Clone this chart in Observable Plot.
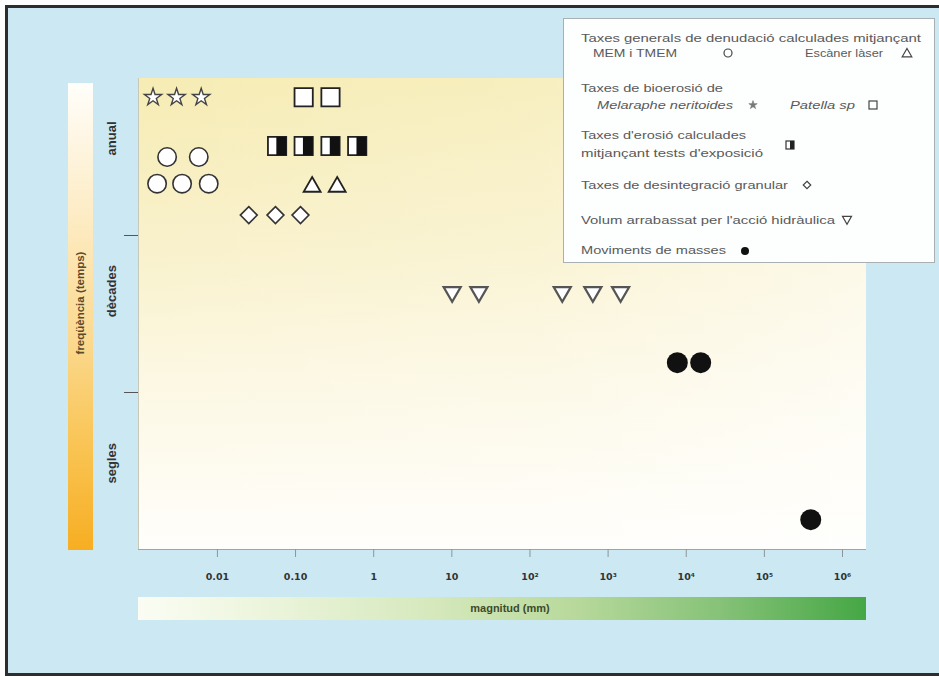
<!DOCTYPE html>
<html><head><meta charset="utf-8">
<script src="https://cdn.jsdelivr.net/npm/d3@7"></script>
<script src="https://cdn.jsdelivr.net/npm/@observablehq/plot@0.6"></script>
<style>
body{margin:0;background:#fff;font-family:"Liberation Sans",Arial,sans-serif;}
#wrap{position:relative;width:939px;height:676px;overflow:hidden;}
#panel{position:absolute;left:5px;top:5px;width:934px;height:671px;background:#cce9f3;border-left:3px solid #2e2e2e;border-top:3px solid #2e2e2e;border-bottom:3px solid #2e2e2e;box-sizing:border-box;}
#plotbg{position:absolute;left:138px;top:78px;width:728px;height:471px;
 background:linear-gradient(to right, rgba(255,255,255,0) 0%, rgba(255,255,255,0.15) 55%, rgba(255,255,255,0.55) 100%),
 linear-gradient(to bottom, #f6ecb4 0%, #f9f1cb 35%, #fcf8e4 65%, #fffefb 100%);}
#ybar{position:absolute;left:68px;top:83px;width:25px;height:467px;
 background:linear-gradient(to bottom,#fffefa 0%,#fdeecb 25%,#fbd98f 55%,#f9c453 78%,#f7ae22 100%);}
#ytitle{position:absolute;left:80px;top:303px;transform:translate(-50%,-50%) rotate(-90deg);white-space:nowrap;font-weight:bold;font-size:11.5px;color:#5b4a2c;}
#xbar{position:absolute;left:138px;top:597px;width:728px;height:23px;
 background:linear-gradient(to right,#fbfdf4 0%,#eef6df 15%,#d6e9bd 40%,#b8d99b 60%,#86c278 80%,#45a744 100%);}
#xtitle{position:absolute;left:510px;top:608px;transform:translate(-50%,-50%);white-space:nowrap;font-weight:bold;font-size:11px;color:#3d4a2c;}
#chart{position:absolute;left:0;top:0;}
#legend{position:absolute;left:0;top:0;pointer-events:none;}
</style>
</head><body>
<div id="wrap">
 <div id="panel"></div>
 <div id="plotbg"></div>
 <div id="ybar"></div>
 <div id="ytitle">freqüència (temps)</div>
 <div id="xbar"></div>
 <div id="xtitle">magnitud (mm)</div>
 <div id="chart"></div>
 <svg id="legend" width="939" height="676"></svg>
</div>
<script>
// ---- data ----
const xTicks = [0.01, 0.1, 1, 10, 100, 1000, 1e4, 1e5, 1e6];
const xTickLabels = ["0.01", "0.10", "1", "10", "10²", "10³", "10⁴", "10⁵", "10⁶"];
const yCategories = ["anual", "dècades", "segles"];
const yCategoryPos = [2.51, 1.48, 0.42];
const yDividers = [1, 2];

const starX = [0.0015, 0.0030, 0.0062];           // Melaraphe neritoides
const starY = [2.88, 2.88, 2.88];
const circleX = [0.00227, 0.00577, 0.00169, 0.00353, 0.00774]; // MEM i TMEM
const circleY = [2.50, 2.50, 2.33, 2.33, 2.33];
const squareX = [0.127, 0.28];                    // Patella sp
const squareY = [2.88, 2.88];
const halfX = [0.058, 0.127, 0.28, 0.615];        // tests d'exposició
const halfY = [2.57, 2.57, 2.57, 2.57];
const triX = [0.163, 0.341];                      // Escàner làser
const triY = [2.31, 2.31];
const diamondX = [0.0252, 0.0553, 0.1156];        // desintegració granular
const diamondY = [2.13, 2.13, 2.13];
const invTriX = [10.1, 22.2, 259, 638, 1445];     // acció hidràulica
const invTriY = [1.64, 1.64, 1.64, 1.64, 1.64];
const massX = [7690, 15300, 392000];              // moviments de masses
const massY = [1.19, 1.19, 0.19];

const xDomain = [10 ** -3.01, 10 ** 6.307];
const yDomain = [0, 3];

const pts = (xs, ys) => xs.map((x, i) => ({x, y: ys[i]}));

const halfSymbol = {draw(ctx, size) {
  const w = Math.sqrt(size);
  ctx.rect(-w * 0.04, -w / 2, w / 2 + w * 0.04, w);
}};
const invTriangle = {draw(ctx, size) {
  const a = Math.sqrt(size / Math.PI) * 0.95;
  ctx.moveTo(-a, -a * 0.577);
  ctx.lineTo(a, -a * 0.577);
  ctx.lineTo(0, a * 1.155);
  ctx.closePath();
}};

const labelMap = new Map(xTicks.map((t, i) => [t, xTickLabels[i]]));

const chart = Plot.plot({
  width: 939, height: 676,
  marginLeft: 138, marginRight: 73, marginTop: 78, marginBottom: 127,
  style: {background: "transparent", fontFamily: "Liberation Sans, Arial, sans-serif", overflow: "visible"},
  x: {type: "log", domain: xDomain},
  y: {domain: yDomain},
  marks: [
    Plot.ruleY([0], {stroke: "#9aa6aa", strokeWidth: 1.2}),
    Plot.ruleX([xDomain[0]], {stroke: "#c8c8b8", strokeWidth: 1}),
    Plot.axisX(xTicks, {tickFormat: d => labelMap.get(d), tickSize: 8, tickPadding: 16, stroke: "#8c9599", fill: "#333", fontSize: 9.5, fontWeight: "bold", fontFamily: "DejaVu Sans, sans-serif", label: null}),
    Plot.axisY(yDividers, {tickFormat: () => "", tickSize: 14, stroke: "#555", label: null}),
    Plot.text(yCategories, {y: (d, i) => yCategoryPos[i], text: d => d, frameAnchor: "left", dx: -27, rotate: -90, fontSize: 13, fontWeight: "bold", fill: "#333"}),
    Plot.dot(pts(starX, starY), {x: "x", y: "y", symbol: "star", r: 5.4, fill: "white", stroke: "#444", strokeWidth: 1.4}),
    Plot.dot(pts(circleX, circleY), {x: "x", y: "y", symbol: "circle", r: 9.2, fill: "white", stroke: "#333", strokeWidth: 1.6}),
    Plot.dot(pts(squareX, squareY), {x: "x", y: "y", symbol: "square", r: 10.3, fill: "white", stroke: "#222", strokeWidth: 1.8}),
    Plot.dot(pts(halfX, halfY), {x: "x", y: "y", symbol: "square", r: 10.3, fill: "white", stroke: "#222", strokeWidth: 1.8}),
    Plot.dot(pts(halfX, halfY), {x: "x", y: "y", symbol: halfSymbol, r: 10.3, fill: "#111", stroke: "none"}),
    Plot.dot(pts(triX, triY), {x: "x", y: "y", symbol: "triangle", r: 6.3, fill: "white", stroke: "#222", strokeWidth: 1.8}),
    Plot.dot(pts(diamondX, diamondY), {x: "x", y: "y", symbol: "diamond2", r: 7.6, fill: "white", stroke: "#333", strokeWidth: 1.6}),
    Plot.dot(pts(invTriX, invTriY), {x: "x", y: "y", symbol: invTriangle, r: 9, fill: "white", stroke: "#555", strokeWidth: 2.2}),
    Plot.dot(pts(massX, massY), {x: "x", y: "y", symbol: "circle", r: 10.5, fill: "#111", stroke: "none"})
  ]
});
document.getElementById("chart").appendChild(chart);

// ---- legend ----
const legendText = [
  {t: "Taxes generals de denudació calculades mitjançant", x: 581, y: 38, w: 340},
  {t: "MEM i TMEM", x: 593, y: 53, w: 84},
  {t: "Escàner làser", x: 805, y: 53, w: 78},
  {t: "Taxes de bioerosió de", x: 581, y: 88, w: 142},
  {t: "Melaraphe neritoides", x: 597, y: 105, w: 136, it: true},
  {t: "Patella sp", x: 790, y: 105, w: 65, it: true},
  {t: "Taxes d'erosió calculades", x: 581, y: 135, w: 165},
  {t: "mitjançant  tests d'exposició", x: 581, y: 153, w: 182},
  {t: "Taxes de desintegració granular", x: 581, y: 185, w: 207},
  {t: "Volum arrabassat per l'acció hidràulica", x: 581, y: 220, w: 254},
  {t: "Moviments de masses", x: 581, y: 250, w: 145}
];
const lg = d3.select("#legend");
lg.append("rect").attr("x", 563.5).attr("y", 18.5).attr("width", 371).attr("height", 244)
  .attr("fill", "#fdfefe").attr("stroke", "#a9b0b3").attr("stroke-width", 1);
lg.selectAll("text.l").data(legendText).join("text")
  .attr("x", d => d.x).attr("y", d => d.y).attr("dy", "0.35em")
  .attr("font-family", "Liberation Sans, Arial, sans-serif")
  .attr("font-size", 11.5).attr("fill", "#5a5a5a")
  .attr("font-style", d => d.it ? "italic" : "normal")
  .attr("textLength", d => d.w).attr("lengthAdjust", "spacingAndGlyphs")
  .text(d => d.t);
lg.append("circle").attr("cx", 728).attr("cy", 53).attr("r", 4).attr("fill", "white").attr("stroke", "#444").attr("stroke-width", 1.2);
lg.append("path").attr("d", d3.symbol(d3.symbolTriangle, 40)()).attr("transform", "translate(907,54)").attr("fill", "white").attr("stroke", "#444").attr("stroke-width", 1.2);
lg.append("path").attr("d", d3.symbol(d3.symbolStar, 22)()).attr("transform", "translate(753,105)").attr("fill", "#777").attr("stroke", "#777").attr("stroke-width", 0.6);
lg.append("rect").attr("x", 869).attr("y", 101).attr("width", 8).attr("height", 8).attr("fill", "white").attr("stroke", "#444").attr("stroke-width", 1.2);
lg.append("rect").attr("x", 786).attr("y", 141).attr("width", 8).attr("height", 8).attr("fill", "white").attr("stroke", "#333").attr("stroke-width", 1.2);
lg.append("rect").attr("x", 790).attr("y", 141).attr("width", 4).attr("height", 8).attr("fill", "#222");
lg.append("path").attr("d", d3.symbol(d3.symbolDiamond2, 36)()).attr("transform", "translate(807,185)").attr("fill", "white").attr("stroke", "#444").attr("stroke-width", 1.2);
lg.append("path").attr("d", "M-4.5,-2.6L4.5,-2.6L0,5.2Z").attr("transform", "translate(847,219)").attr("fill", "white").attr("stroke", "#444").attr("stroke-width", 1.2);
lg.append("circle").attr("cx", 745).attr("cy", 251).attr("r", 4).attr("fill", "#111");
</script>
</body></html>
